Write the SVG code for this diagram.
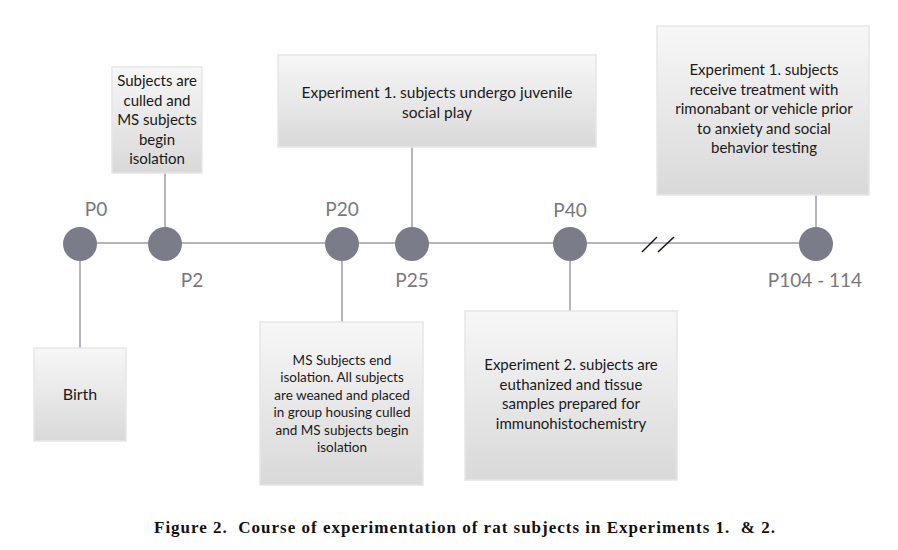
<svg xmlns="http://www.w3.org/2000/svg" width="898" height="550" viewBox="0 0 898 550">
<defs>
<linearGradient id="g" x1="0" y1="0" x2="0" y2="1">
<stop offset="0" stop-color="#f7f7f7"/>
<stop offset="1" stop-color="#d9d9d9"/>
</linearGradient>
</defs>
<style>
.box{fill:url(#g);stroke:#e6e6e6;stroke-width:1.5}
.t{font-family:Lato,"Open Sans",sans-serif;fill:#1a1a1a;text-anchor:middle}
.lab{font-family:Lato,"Open Sans",sans-serif;fill:#77787f;text-anchor:middle;font-size:19px}
.ln{stroke:#9c9ca4;stroke-width:1.5;fill:none}
.dot{fill:#7b7c89}
</style>
<rect width="898" height="550" fill="#fff"/>
<g id="connectors">
<line class="ln" x1="80" y1="243" x2="833" y2="243"/>
<line class="ln" x1="80" y1="243" x2="80" y2="348"/>
<line class="ln" x1="165" y1="173" x2="165" y2="243"/>
<line class="ln" x1="342" y1="243" x2="342" y2="322"/>
<line class="ln" x1="412" y1="147" x2="412" y2="243"/>
<line class="ln" x1="570" y1="243" x2="570" y2="311"/>
<line class="ln" x1="816" y1="195" x2="816" y2="243"/>
<line x1="642" y1="252" x2="657" y2="237" stroke="#111" stroke-width="1.5"/>
<line x1="658" y1="252" x2="674" y2="237" stroke="#111" stroke-width="1.5"/>
</g>
<g id="p0"><circle class="dot" cx="80" cy="244" r="17"/><text class="lab" x="96" y="216">P0</text></g>
<g id="p2"><circle class="dot" cx="165" cy="244" r="17"/><text class="lab" x="192" y="287">P2</text></g>
<g id="p20"><circle class="dot" cx="342" cy="244" r="17"/><text class="lab" x="342" y="216">P20</text></g>
<g id="p25"><circle class="dot" cx="412" cy="244" r="17"/><text class="lab" x="412" y="287">P25</text></g>
<g id="p40"><circle class="dot" cx="570" cy="244" r="17"/><text class="lab" x="570" y="217">P40</text></g>
<g id="p104"><circle class="dot" cx="816" cy="244" r="17"/><text class="lab" x="815" y="287">P104 - 114</text></g>
<g id="birth"><rect class="box" x="34" y="348" width="92" height="93"/><text class="t" x="80" y="400" font-size="16">Birth</text></g>
<g id="box-p2"><rect class="box" x="112" y="67" width="90" height="106"/>
<text class="t" font-size="15"><tspan x="157" y="86">Subjects are</tspan><tspan x="157" y="105.5">culled and</tspan><tspan x="157" y="125">MS subjects</tspan><tspan x="157" y="144.5">begin</tspan><tspan x="157" y="164">isolation</tspan></text></g>
<g id="box-p25"><rect class="box" x="278" y="55" width="318" height="92"/>
<text class="t" font-size="15.5"><tspan x="437" y="98">Experiment 1. subjects undergo juvenile</tspan><tspan x="437" y="118">social play</tspan></text></g>
<g id="box-p20"><rect class="box" x="260" y="322" width="163" height="163"/>
<text class="t" font-size="13.5"><tspan x="342" y="364.5">MS Subjects end</tspan><tspan x="342" y="382">isolation. All subjects</tspan><tspan x="342" y="399.5">are weaned and placed</tspan><tspan x="342" y="417">in group housing culled</tspan><tspan x="342" y="434.5">and MS subjects begin</tspan><tspan x="342" y="452">isolation</tspan></text></g>
<g id="box-p40"><rect class="box" x="465" y="311" width="212" height="169"/>
<text class="t" font-size="15"><tspan x="571" y="370">Experiment 2. subjects are</tspan><tspan x="571" y="389.5">euthanized and tissue</tspan><tspan x="571" y="409">samples prepared for</tspan><tspan x="571" y="428.5">immunohistochemistry</tspan></text></g>
<g id="box-p104"><rect class="box" x="657" y="26" width="212" height="169"/>
<text class="t" font-size="15"><tspan x="764" y="75">Experiment 1. subjects</tspan><tspan x="764" y="94.5">receive treatment with</tspan><tspan x="764" y="114">rimonabant or vehicle prior</tspan><tspan x="764" y="133.5">to anxiety and social</tspan><tspan x="764" y="153">behavior testing</tspan></text></g>
<text id="caption" x="465" y="533" font-family="'Liberation Serif',serif" font-weight="bold" font-size="17" letter-spacing="1" text-anchor="middle" fill="#111" xml:space="preserve">Figure 2.  Course of experimentation of rat subjects in Experiments 1.  &amp; 2.</text>
</svg>
